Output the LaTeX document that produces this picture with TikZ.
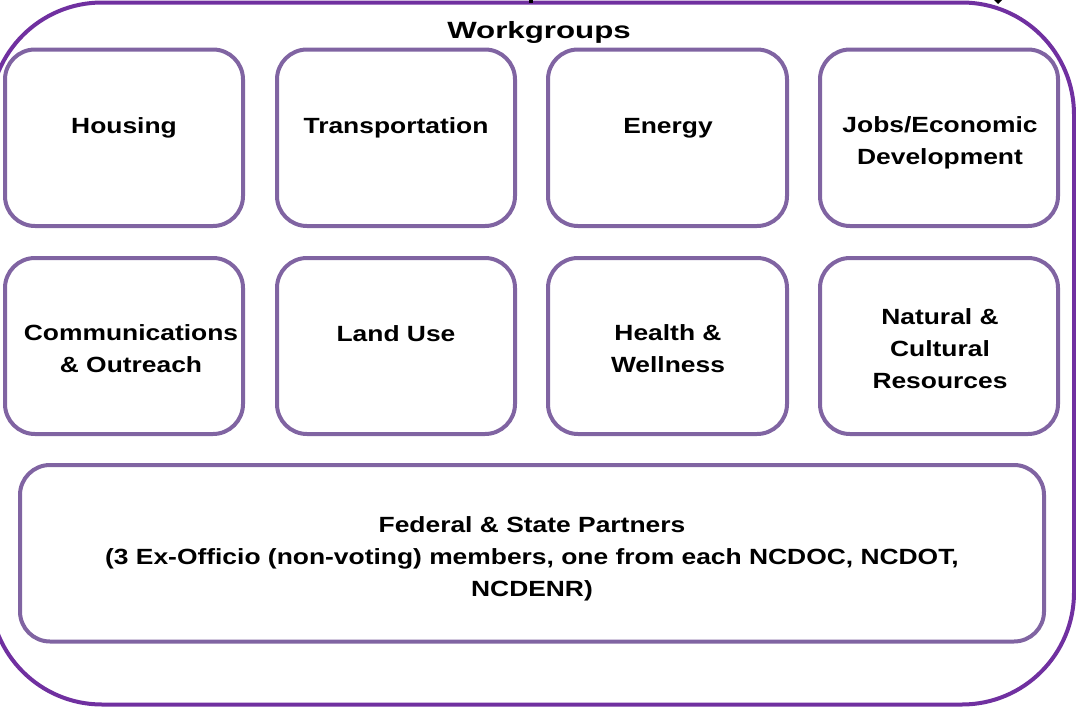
\documentclass[tikz,border=0pt]{standalone}
\usepackage{fontspec}
\newfontfamily\bodyfont[FakeStretch=1.2]{Liberation Sans}
\newfontfamily\titlefontfam[FakeStretch=1.33]{Liberation Sans}
\definecolor{outerpurple}{HTML}{7030A0}
\definecolor{boxpurple}{HTML}{8064A2}
\begin{document}
\begin{tikzpicture}[x=1pt,y=-1pt,
  wgbox/.style={draw=boxpurple,line width=4pt,rounded corners=30pt},
  wgtext/.style={font=\bodyfont\bfseries\fontsize{22pt}{32pt}\selectfont,align=center,anchor=base,inner sep=0pt}]
\useasboundingbox (0,0) rectangle (1076,707);
\clip (0,0) rectangle (1076,707);
\draw[draw=outerpurple,line width=4pt,rounded corners=112pt] (-10,2.5) rectangle (1074,704.5);
\fill[black] (993,-1) -- (1003,-1) -- (998,4) -- cycle;
\fill[black] (529,-1) rectangle (533,3);
\node[font=\titlefontfam\bfseries\fontsize{23.5pt}{28pt}\selectfont,anchor=base,inner sep=0pt] (title) at (539,38.5) {Workgroups};
% row 1
\draw[wgbox] (5,49.5) rectangle (243,226);
\draw[wgbox] (277,49.5) rectangle (515,226);
\draw[wgbox] (548,49.5) rectangle (787,226);
\draw[wgbox] (820,49.5) rectangle (1058,226);
% row 2
\draw[wgbox] (5,258) rectangle (243,434);
\draw[wgbox] (277,258) rectangle (515,434);
\draw[wgbox] (548,258) rectangle (787,434);
\draw[wgbox] (820,258) rectangle (1058,434);
% bottom
\draw[wgbox] (20,465) rectangle (1044,641.5);
\node[wgtext] (housing) at (124,133) {Housing};
\node[wgtext] (transport) at (396,133) {Transportation};
\node[wgtext] (energy) at (668,133) {Energy};
\node[wgtext] (jobs) at (940,164.5) {Jobs/Economic\\Development};
\node[wgtext] (comm) at (131,372.5) {Communications\\\& Outreach};
\node[wgtext] (landuse) at (396,341) {Land Use};
\node[wgtext] (health) at (668,372.5) {Health \&\\Wellness};
\node[wgtext] (natural) at (940,388.5) {Natural \&\\Cultural\\Resources};
\node[wgtext] (federal) at (532,596.5) {Federal \& State Partners\\(3 Ex-Officio (non-voting) members, one from each NCDOC, NCDOT,\\NCDENR)};
\end{tikzpicture}
\end{document}
